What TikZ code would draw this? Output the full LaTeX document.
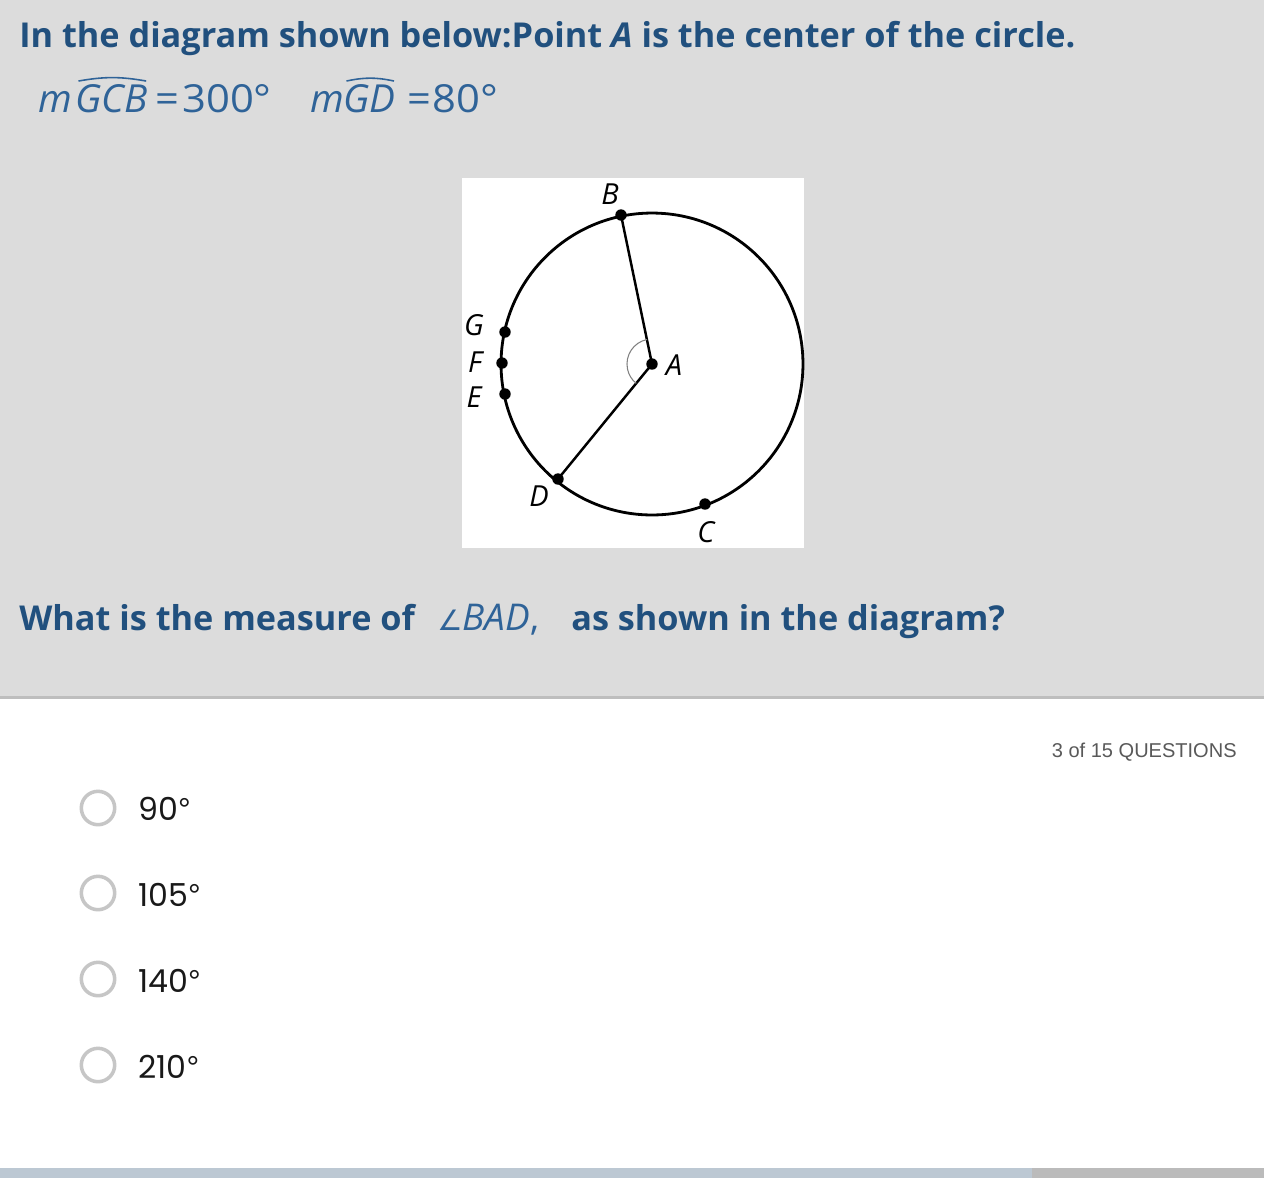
\documentclass[tikz,border=0pt]{standalone}
\usepackage{graphicx}
\usepackage{fontspec}
\setmainfont{Open Sans}
\newfontfamily\optfont{Poppins}
\newfontfamily\countfont{Liberation Sans}
\newfontfamily\symfont{DejaVu Sans}
\usetikzlibrary{positioning}

\definecolor{qblue}{HTML}{21507E}
\definecolor{mblue}{HTML}{2F6398}
\definecolor{panel}{HTML}{DCDCDC}
\definecolor{rule}{HTML}{BEBEBE}
\definecolor{radio}{HTML}{C6C6C6}
\definecolor{barblue}{HTML}{BCC8D3}
\definecolor{bargray}{HTML}{BBBBBB}

\newcommand\widenum[1]{\scalebox{1.08}[1]{#1}}
\newcommand\degr{{\countfont °}}

\begin{document}
\begin{tikzpicture}[x=0.02cm,y=-0.02cm,
    qtext/.style={anchor=base west,inner sep=0pt,text=qblue,font=\fontsize{19.5}{22}\selectfont\bfseries},
    mtext/.style={anchor=base west,inner sep=0pt,text=mblue,font=\fontsize{22}{26}\selectfont},
    ptlabel/.style={inner sep=0pt,font=\fontsize{16.5}{19}\selectfont\itshape},
    dot/.style={circle,fill=black,inner sep=0pt,minimum size=6.5pt},
    radiobtn/.style={circle,draw=radio,line width=2pt,minimum size=19pt,inner sep=0pt},
    answer/.style={anchor=base west,inner sep=0pt,text=black!90,font=\optfont\fontsize{18}{21}\selectfont}]

    % background
    \useasboundingbox (0,0) rectangle (1264,1178);
    \fill[white] (0,0) rectangle (1264,1178);
    \fill[panel] (0,0) rectangle (1264,696);
    \fill[rule] (0,696) rectangle (1264,699);
    \fill[barblue] (0,1168) rectangle (1032,1178);
    \fill[bargray] (1032,1168) rectangle (1264,1178);

    % question text
    \node[qtext] (title) at (19,47) {In the diagram shown below:Point \textit{A} is the center of the circle.};

    \node[mtext] (m1) at (38,112) {\textit{m}};
    \node[mtext] (gcb) at (75,112) {\textit{GCB}};
    \node[mtext] (eq1) at (155,112) {\widenum{=}};
    \node[mtext] (v1) at (182,112) {\widenum{300°}};
    \node[mtext] (m2) at (310,112) {\textit{m}};
    \node[mtext] (gd) at (343,112) {\textit{GD}};
    \node[mtext] (eq2) at (407,112) {\widenum{=}};
    \node[mtext] (v2) at (432,112) {\widenum{80°}};
    \draw[mblue,line width=0.9pt] ([xshift=2pt,yshift=1.5pt]gcb.north west) to[bend left=10] ([xshift=-1pt,yshift=1.5pt]gcb.north east);
    \draw[mblue,line width=0.9pt] ([xshift=2pt,yshift=1.5pt]gd.north west) to[bend left=12] ([xshift=-1pt,yshift=1.5pt]gd.north east);

    % figure
    \fill[white] (462,178) rectangle (804,548);
    \coordinate (A) at (652,364);
    \draw[line width=1.6pt] (A) circle[radius=3.02cm];
    \coordinate (B) at (621,215);
    \coordinate (D) at (558,479);
    \coordinate (C) at (705,504);
    \coordinate (G) at (505,332);
    \coordinate (F) at (502,363);
    \coordinate (E) at (505,394);
    \draw[line width=1.4pt] (B) -- (A) -- (D);
    \draw[gray,line width=0.6pt] (647,339.5) arc[start angle=101.5,end angle=230.8,radius=0.5cm];
    \foreach \p in {A,B,C,D,E,F,G}
      \node[dot] (d\p) at (\p) {};

    \node[ptlabel] (lB) at (610,194) {B};
    \node[ptlabel] (lA) at (674,365) {A};
    \node[ptlabel] (lG) at (474,325) {G};
    \node[ptlabel] (lF) at (475,362) {F};
    \node[ptlabel] (lE) at (474,397) {E};
    \node[ptlabel] (lD) at (539,496) {D};
    \node[ptlabel] (lC) at (706,532) {C};

    % question
    \node[qtext] (q1) at (19,630) {What is the measure of};
    \node[mtext,font=\fontsize{21}{24}\selectfont] (ang) at (437,630) {{\symfont\fontsize{16}{18}\selectfont ∠}\textit{BAD},};
    \node[qtext] (q2) at (571,630) {as shown in the diagram?};

    % answers
    \node[anchor=base east,inner sep=0pt,text=black!65,font=\countfont\fontsize{11.4}{14}\selectfont] (count) at (1237,757) {3 of 15 QUESTIONS};

    \node[radiobtn] (r1) at (98,808) {};
    \node[answer] (a1) at (138,820) {90\degr};
    \node[radiobtn] (r2) at (98,893) {};
    \node[answer] (a2) at (138,906) {105\degr};
    \node[radiobtn] (r3) at (98,979) {};
    \node[answer] (a3) at (138,992) {140\degr};
    \node[radiobtn] (r4) at (98,1065) {};
    \node[answer] (a4) at (138,1078) {210\degr};

  \end{tikzpicture}
\end{document}
